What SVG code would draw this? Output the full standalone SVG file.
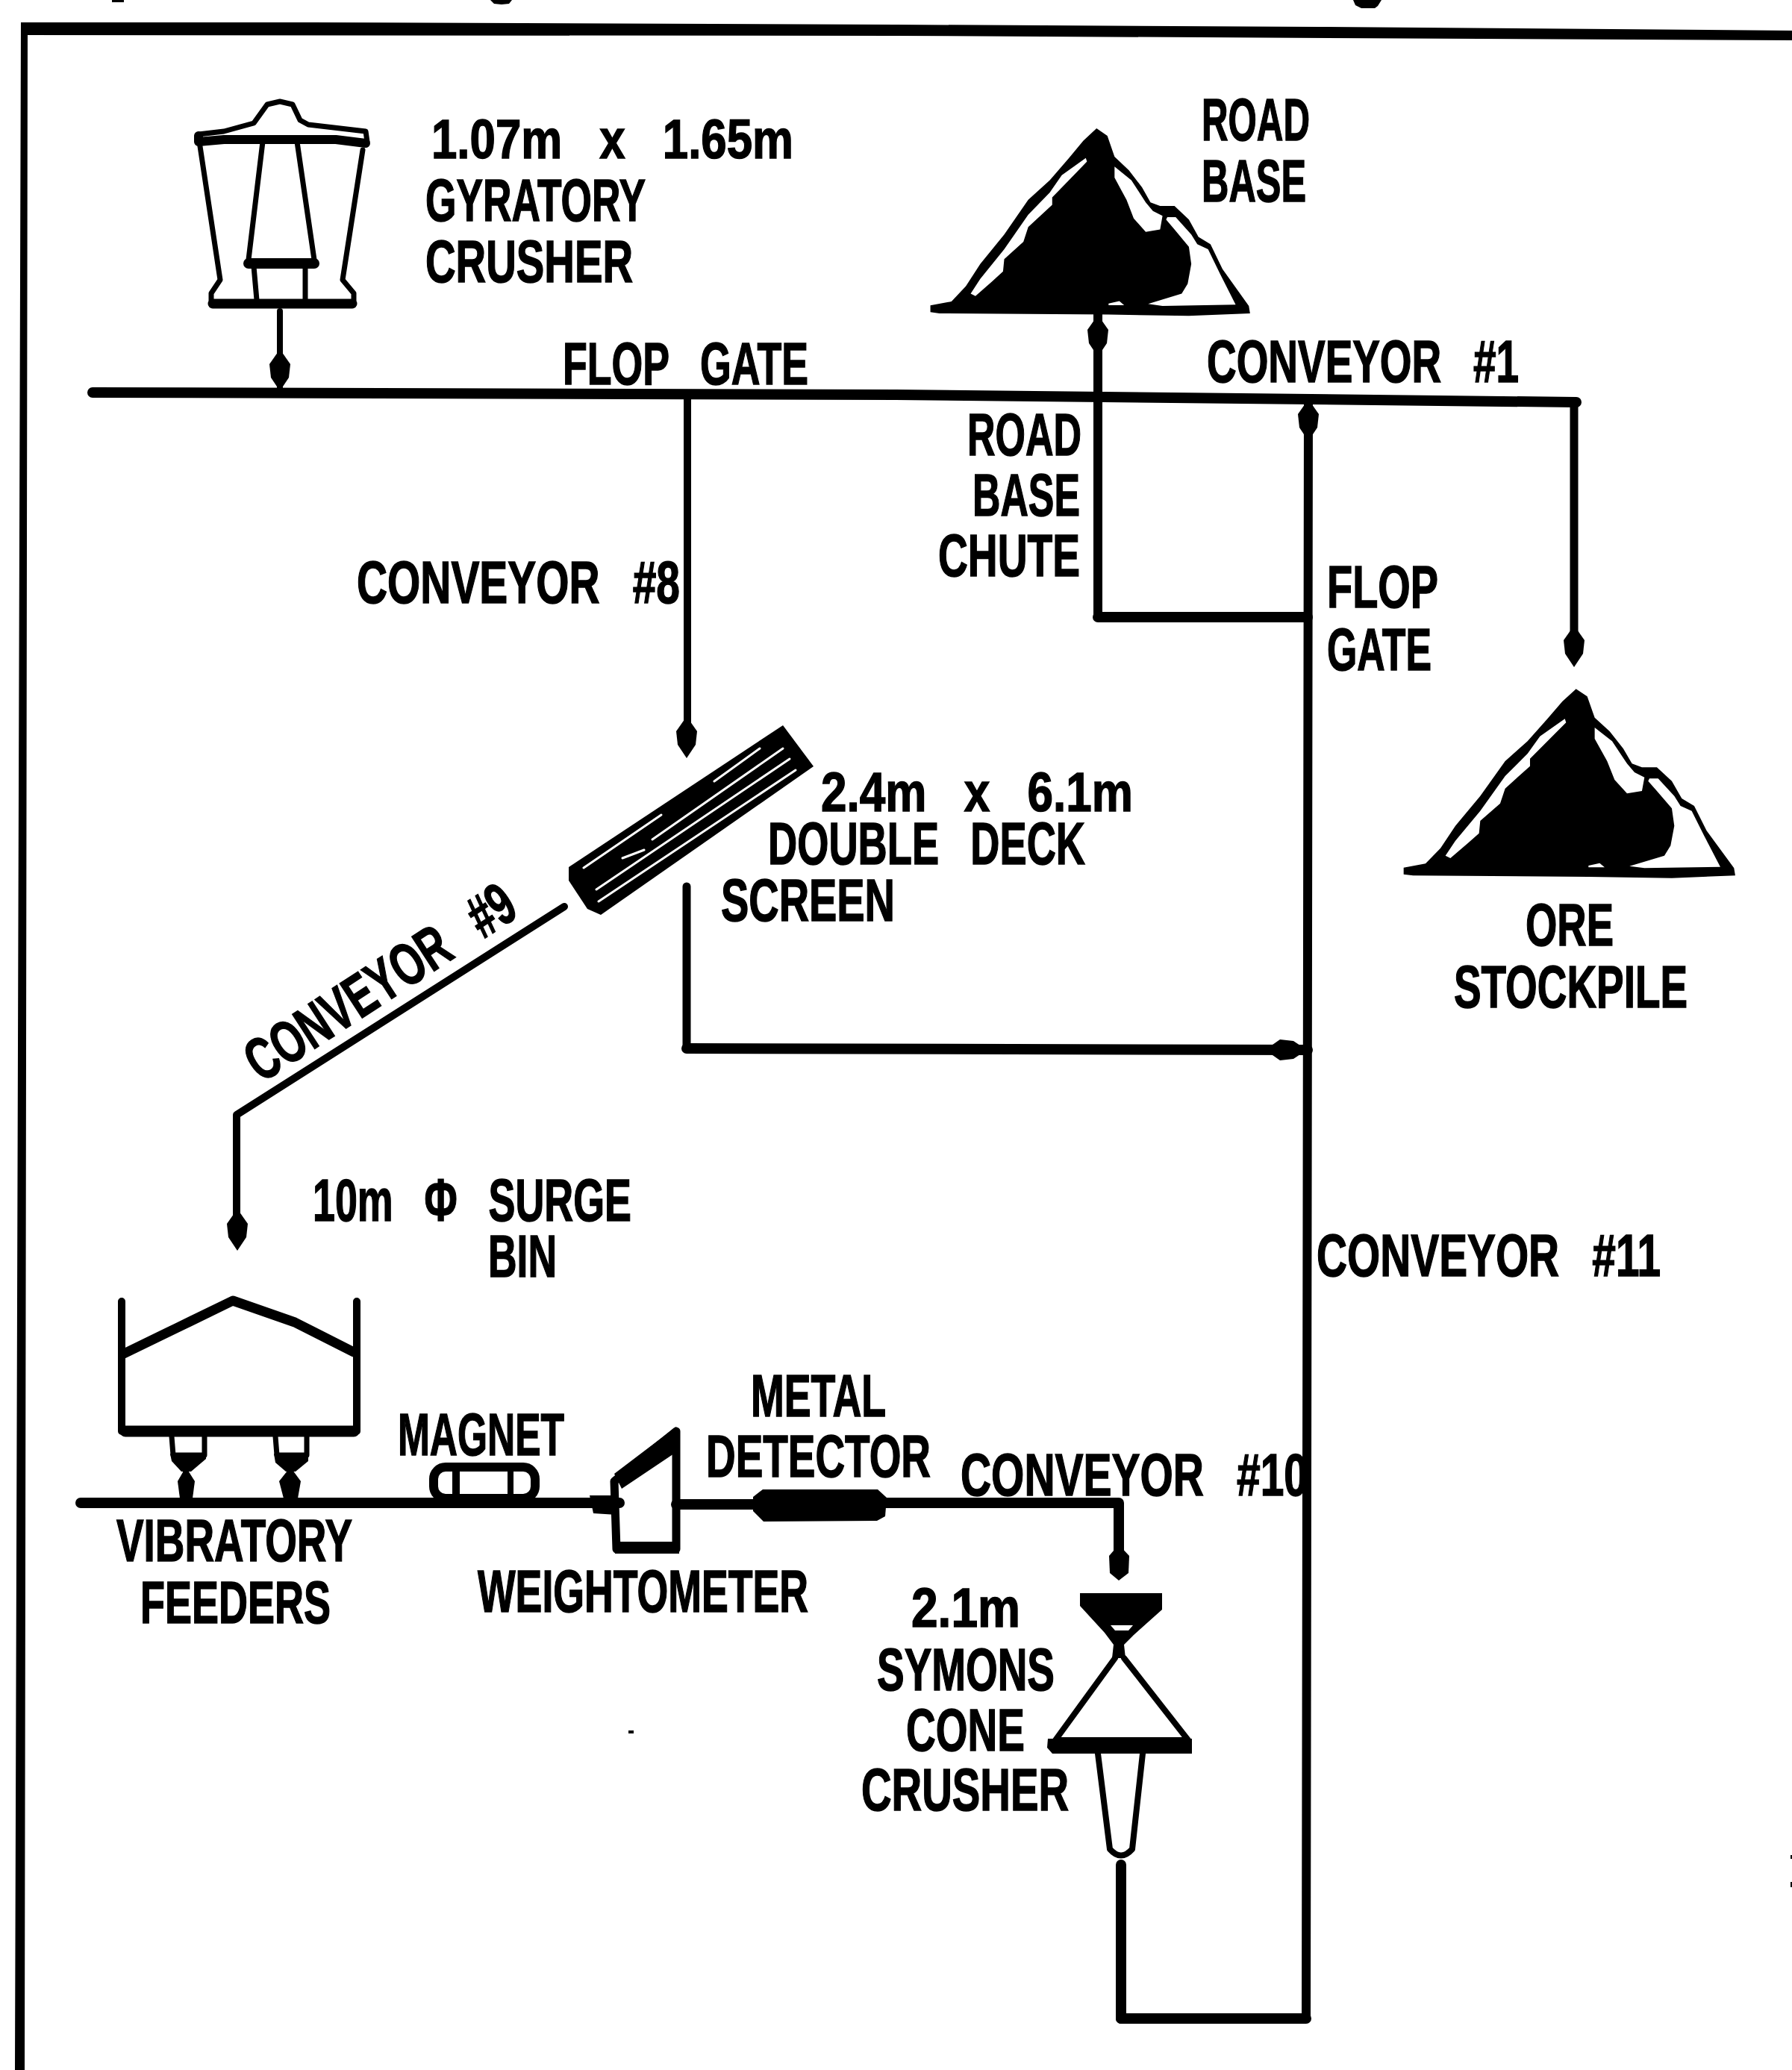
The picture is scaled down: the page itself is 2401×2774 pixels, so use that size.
<svg xmlns="http://www.w3.org/2000/svg" width="2401" height="2774" viewBox="0 0 2401 2774">
<style>
.l{fill:none;stroke:#000;stroke-width:12;stroke-linejoin:round;stroke-linecap:round}
.h{fill:none;stroke:#000;stroke-width:14;stroke-linejoin:round;stroke-linecap:round}
.m{fill:none;stroke:#000;stroke-width:8;stroke-linejoin:round;stroke-linecap:round}
.s{fill:none;stroke:#000;stroke-width:7;stroke-linejoin:round;stroke-linecap:round}
.k{fill:#000}
.o{fill:#fff}
.w{fill:none;stroke:#fff;stroke-width:3;stroke-linecap:round}
text{font-family:"Liberation Sans",Arial,sans-serif;font-weight:700;font-size:80px;fill:#000;stroke:#000;stroke-width:1.5;white-space:pre}
.g{word-spacing:40px}
</style>
<defs>
<path id="ah" class="k" d="M0,-30 L14,-10 L12,8 L0,26 L-12,8 L-14,-10 Z"/>
<g id="pile">
<path class="k" d="M785,130 L830,160 L860,245 L920,300 L975,370 L1010,430 L1050,445 L1110,445 L1170,500 L1210,570 L1260,600 L1310,700 L1420,850 L1425,880 L1170,890 L835,885 L130,880 L92,875 L92,848 L180,832 L240,770 L300,680 L400,560 L500,420 L590,340 L670,250 L730,180 Z"/>
<path class="o" d="M740,250 L745,265 L700,310 L600,410 L600,440 L500,530 L480,590 L400,660 L395,710 L350,750 L280,810 L260,800 L300,740 L400,620 L500,480 L590,390 L640,320 Z"/>
<path class="o" d="M860,285 L930,340 L990,430 L1020,465 L1060,485 L1050,540 L990,550 L940,495 L910,420 L860,330 Z"/>
<path class="o" d="M1080,490 L1115,490 L1180,560 L1205,600 L1250,620 L1300,720 L1365,845 L1060,850 L1000,842 L1140,800 L1165,760 L1180,680 L1170,610 L1110,540 L1075,500 Z"/>
<path class="o" d="M835,840 L880,830 L900,847 L835,847 Z"/>
</g>
</defs>
<rect width="2401" height="2774" fill="#fff"/>
<g id="fragments">
<path class="k" d="M150,0 H166 V3 H150 Z M657,0 H686 L682,5 L672,6 L662,5 Z M1813,0 H1851 L1846,8 L1842,11 L1824,11 L1816,7 Z"/>
<path class="k" d="M842,2319 H849 V2323 H842 Z M2399,2486 H2401 V2491 H2399 Z M2399,2522 H2401 V2529 H2399 Z"/>
</g>
<path id="frame" class="k" d="M28,30 L415,30 L1200,33 L1766,36 L2401,41 V54 L1200,48 L37,47 L33,2774 H20 Z"/>
<g id="connectors">
<path class="h" d="M124,526 L1200,529 L2112,539"/>
<path class="m" d="M375,417 V527"/><use href="#ah" transform="translate(375,498)"/>
<path class="l" d="M1471,415 V827"/><path class="h" d="M1471,827 H1752"/><use href="#ah" transform="translate(1471,452)"/>
<path class="l" d="M1753,540 L1750,2705"/><path class="h" d="M1750,2705 H1502"/><path class="h" d="M1502,2705 V2499"/><use href="#ah" transform="translate(1753,565)"/>
<path class="m" d="M2109,540 V870" style="stroke-width:11"/><use href="#ah" transform="translate(2109,868)"/>
<path class="l" d="M921,530 V985" style="stroke-width:10"/><use href="#ah" transform="translate(920,990)"/>
<path class="l" d="M920,1188 V1405" style="stroke-width:11"/><path class="h" d="M920,1405 L1752,1407"/><use href="#ah" transform="translate(1725,1407) rotate(-90)"/>
<path class="l" d="M756,1215 L317,1494 V1650" style="stroke-width:10"/><use href="#ah" transform="translate(318,1650)"/>
<path class="h" d="M108,2014 H830"/><path class="k" d="M790,2004 H826 V2030 L795,2028 Z"/>
<path class="h" d="M906,2016 H1010"/>
<path class="h" d="M1180,2014 H1499 V2090"/><path class="k" d="M1499,2070 L1513,2085 L1512,2108 L1499,2118 L1487,2108 L1486,2085 Z"/>
<path class="m" d="M249,1960 V2010"/><path class="k" d="M249,1966 L261,1985 L258,2008 H241 L238,1985 Z"/>
<path class="m" d="M389,1960 V2010"/><path class="k" d="M389,1966 L403,1985 L399,2008 H380 L374,1985 Z"/>
</g>
<g id="gyratory-crusher">
<path class="s" d="M268,196 L295,375 L283,393 L283,408 L474,408 L474,393 L459,375 L486,201"/>
<path class="l" d="M266,180 L300,176 L340,165 L358,140 L375,136 L392,140 L402,161 L413,167 L490,176 L492,190" style="stroke-width:7"/>
<path class="l" d="M266,182 V190 L300,187 H450 L490,192" style="stroke-width:12"/>
<path class="s" d="M352,190 L333,348 M398,190 L421,348"/>
<path class="l" d="M333,353 H421" style="stroke-width:14"/>
<path class="s" d="M340,357 L344,402 M409,357 V402"/>
<path class="l" d="M285,407 H472" style="stroke-width:13"/>
</g>
<g id="road-base"><use href="#pile" transform="translate(1217,129) scale(0.3213,0.3306)"/></g>
<g id="ore-stockpile"><use href="#pile" transform="translate(1850,880) scale(0.3333)"/></g>
<g id="double-deck-screen">
<path class="k" d="M1049,972 L1090,1027 L805,1226 L787,1218 L762,1180 L762,1162 Z"/>
<path class="w" d="M802,1208 L1066,1032 M799,1192 L1058,1017 M874,1125 L1049,1003 M834,1150 L863,1139 M782,1163 L886,1092 M957,1047 L1018,1003"/>
</g>
<g id="surge-bin">
<path class="l" d="M163,1744 V1918 H478 V1744" style="stroke-width:10"/>
<path class="l" d="M166,1814 L236,1780 L312,1743 L395,1772 L474,1812" style="stroke-width:13"/>
<path class="l" d="M168,1918 H474" style="stroke-width:15"/>
</g>
<g id="vibratory-feeders">
<path class="s" d="M230,1925 L232,1950 H274 L274,1925"/>
<path class="k" d="M228,1948 H276 L276,1955 L256,1972 H243 L230,1958 Z"/>
<path class="s" d="M369,1925 L371,1950 H411 L411,1925"/>
<path class="k" d="M367,1948 H413 L413,1958 L396,1972 H383 L369,1960 Z"/>
</g>
<g id="magnet">
<rect x="581" y="1966" width="136" height="42" rx="16" fill="#fff" stroke="#000" stroke-width="12"/>
<path class="k" d="M587,2004 H712 V2014 H587 Z M606,1972 H616 V2002 H606 Z M680,1972 H688 V2002 H680 Z"/>
</g>
<g id="weightometer">
<path class="l" d="M823,1985 L906,1918 V2076 H826 Z" style="stroke-width:11"/>
<path class="k" d="M823,1975 L906,1912 V1946 L833,1995 Z M824,2066 H910 V2082 H824 Z"/>
</g>
<g id="metal-detector"><path class="k" d="M1009,2006 L1022,1996 H1176 L1188,2007 L1186,2032 L1175,2038 L1023,2039 L1009,2025 Z"/></g>
<g id="cone-crusher">
<path class="k" d="M1447,2135 H1557 V2157 L1519,2191 L1506,2204 L1508,2222 H1490 L1492,2204 L1480,2188 L1447,2152 Z"/>
<path class="o" d="M1488,2178 H1518 L1512,2185 H1494 Z"/>
<path class="m" d="M1494,2222 L1414,2332 H1592 L1506,2222"/>
<path class="k" d="M1404,2330 H1597 V2350 H1410 L1403,2342 Z"/>
<path class="s" d="M1471,2350 L1487,2478 Q1502,2495 1517,2478 L1531,2350" style="stroke-width:8"/>
</g>
<g id="labels">
<text x="578" y="212" textLength="485" lengthAdjust="spacingAndGlyphs" class="g" style="font-size:75px">1.07m x 1.65m</text>
<text x="570" y="296" textLength="295" lengthAdjust="spacingAndGlyphs">GYRATORY</text>
<text x="570" y="378" textLength="278" lengthAdjust="spacingAndGlyphs">CRUSHER</text>
<text x="754" y="515" textLength="329" lengthAdjust="spacingAndGlyphs" class="g">FLOP GATE</text>
<text x="1610" y="188" textLength="145" lengthAdjust="spacingAndGlyphs">ROAD</text>
<text x="1610" y="270" textLength="140" lengthAdjust="spacingAndGlyphs">BASE</text>
<text x="1617" y="512" textLength="418" lengthAdjust="spacingAndGlyphs" class="g">CONVEYOR #1</text>
<text x="1296" y="610" textLength="153" lengthAdjust="spacingAndGlyphs">ROAD</text>
<text x="1303" y="691" textLength="144" lengthAdjust="spacingAndGlyphs">BASE</text>
<text x="1257" y="772" textLength="190" lengthAdjust="spacingAndGlyphs">CHUTE</text>
<text x="1778" y="814" textLength="149" lengthAdjust="spacingAndGlyphs">FLOP</text>
<text x="1778" y="898" textLength="140" lengthAdjust="spacingAndGlyphs">GATE</text>
<text x="478" y="808" textLength="433" lengthAdjust="spacingAndGlyphs" class="g">CONVEYOR #8</text>
<text x="1100" y="1087" textLength="418" lengthAdjust="spacingAndGlyphs" class="g" style="font-size:75px">2.4m x 6.1m</text>
<text x="1029" y="1158" textLength="425" lengthAdjust="spacingAndGlyphs" class="g">DOUBLE DECK</text>
<text x="966" y="1234" textLength="233" lengthAdjust="spacingAndGlyphs">SCREEN</text>
<text x="2044" y="1267" textLength="118" lengthAdjust="spacingAndGlyphs">ORE</text>
<text x="1948" y="1350" textLength="313" lengthAdjust="spacingAndGlyphs">STOCKPILE</text>
<text x="350" y="1452" textLength="415" lengthAdjust="spacingAndGlyphs" class="g" transform="rotate(-33 350 1452)">CONVEYOR #9</text>
<text x="1764" y="1710" textLength="461" lengthAdjust="spacingAndGlyphs" class="g">CONVEYOR #11</text>
<text x="419" y="1636" textLength="427" lengthAdjust="spacingAndGlyphs" class="g">10m Φ SURGE</text>
<text x="654" y="1711" textLength="92" lengthAdjust="spacingAndGlyphs">BIN</text>
<text x="533" y="1950" textLength="223" lengthAdjust="spacingAndGlyphs">MAGNET</text>
<text x="156" y="2092" textLength="316" lengthAdjust="spacingAndGlyphs">VIBRATORY</text>
<text x="188" y="2175" textLength="255" lengthAdjust="spacingAndGlyphs">FEEDERS</text>
<text x="640" y="2160" textLength="443" lengthAdjust="spacingAndGlyphs">WEIGHTOMETER</text>
<text x="1006" y="1898" textLength="181" lengthAdjust="spacingAndGlyphs">METAL</text>
<text x="946" y="1979" textLength="301" lengthAdjust="spacingAndGlyphs">DETECTOR</text>
<text x="1287" y="2004" textLength="465" lengthAdjust="spacingAndGlyphs" class="g">CONVEYOR #10</text>
<text x="1221" y="2180" textLength="146" lengthAdjust="spacingAndGlyphs" style="font-size:75px">2.1m</text>
<text x="1175" y="2265" textLength="238" lengthAdjust="spacingAndGlyphs">SYMONS</text>
<text x="1214" y="2346" textLength="159" lengthAdjust="spacingAndGlyphs">CONE</text>
<text x="1154" y="2426" textLength="278" lengthAdjust="spacingAndGlyphs">CRUSHER</text>
</g>
</svg>
